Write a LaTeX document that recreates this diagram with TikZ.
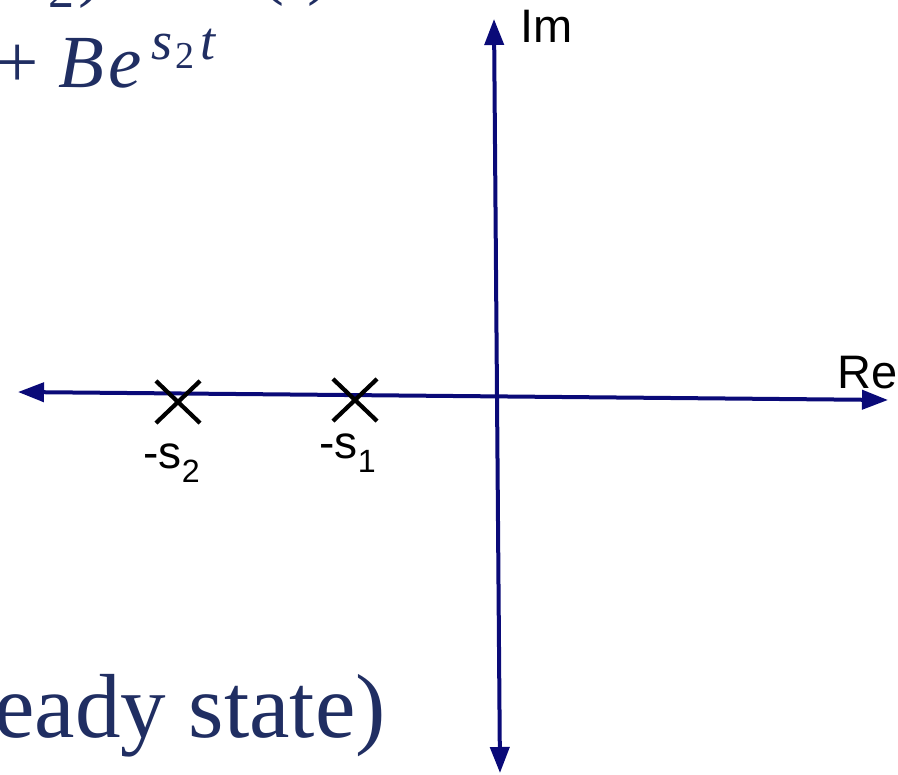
\documentclass[tikz,border=0pt]{standalone}
\usepackage{fontspec}
\setmainfont{Liberation Serif}
\setsansfont{Liberation Sans}
\usetikzlibrary{arrows.meta,shapes.misc}
\definecolor{navytext}{RGB}{32,46,98}
\definecolor{axisblue}{RGB}{10,10,120}
\tikzset{
  axis/.style={draw=axisblue, line width=4pt, {Triangle[length=26pt,width=19pt]}-{Triangle[length=26pt,width=19pt]}},
  polemark/.style={cross out, draw=black, line width=4.2pt, minimum width=40pt, minimum height=38pt, inner sep=0pt},
  axlabel/.style={font=\sffamily\fontsize{47}{52}\selectfont, text=black, inner sep=0pt},
  polelabel/.style={font=\sffamily\fontsize{46}{50}\selectfont, text=black, inner sep=0pt, anchor=base},
  eqtext/.style={text=navytext, inner sep=0pt, anchor=base west}
}
\begin{document}
\begin{tikzpicture}[x=1pt,y=-1pt]
\useasboundingbox (0,0) rectangle (898,775);
\clip (0,0) rectangle (898,775);
% cropped equation text
\node[eqtext, font=\fontsize{75}{80}\selectfont] (eq0a) at (19,-7) {\textit{s}\raisebox{-15pt}{\fontsize{52}{56}\selectfont 2}\hspace{4pt})};
\node[eqtext, font=\fontsize{75}{80}\selectfont] (eq0b) at (216,-9) {\textit{u}\hspace{6pt}(\textit{t})};
\node[eqtext, font=\fontsize{75}{80}\selectfont] (eq1) at (-4,88) {+\hspace{20pt}\textit{B}\hspace{4pt}\textit{e}\hspace{10pt}\raisebox{28pt}{\fontsize{54}{58}\selectfont\textit{s}\hspace{3pt}\raisebox{-9pt}{\fontsize{38}{40}\selectfont 2}\hspace{6pt}\textit{t}}};
\node[text=navytext, inner sep=0pt, anchor=base east, font=\fontsize{91}{98}\selectfont] (eq2) at (386,737) {eady state)};
% axes
\coordinate (reL) at (18,392);
\coordinate (reR) at (888,400);
\coordinate (imT) at (494,19);
\coordinate (imB) at (500,773);
\draw[axis] (reL) -- (reR);
\draw[axis] (imB) -- (imT);
\node[axlabel, anchor=base west] (im) at (520,43) {Im};
\node[axlabel, anchor=base west] (re) at (837,389) {Re};
% poles
\node[polemark] (p2) at (178,402) {};
\node[polemark] (p1) at (355,400) {};
\node[polelabel] (l2) at (172,469) {-s\textsubscript{2}};
\node[polelabel] (l1) at (348,459) {-s\textsubscript{1}};
\end{tikzpicture}
\end{document}
